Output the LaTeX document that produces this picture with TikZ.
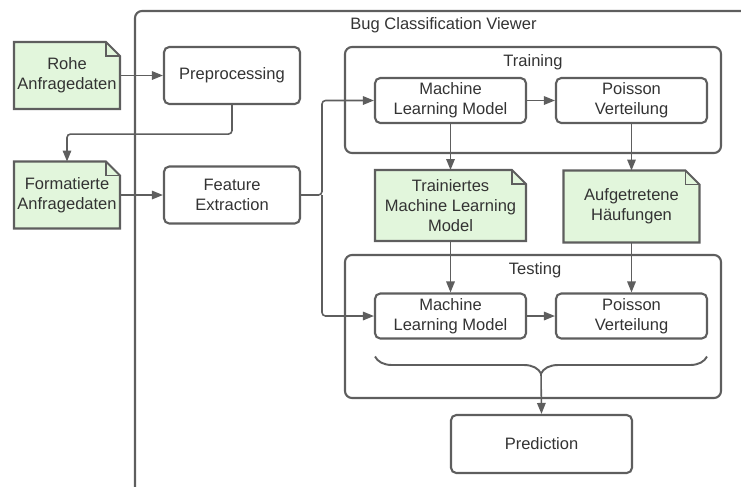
\documentclass[tikz,border=0pt]{standalone}
\usepackage{fontspec}
\setmainfont{Liberation Sans}
\usepackage{xcolor}
\usepackage{tikz}
\usetikzlibrary{arrows.meta,decorations.pathreplacing}
\pgfdeclarelayer{bg}
\pgfsetlayers{bg,main}

\definecolor{linegray}{HTML}{5E5E5E}
\definecolor{textgray}{HTML}{333333}
\definecolor{notegreen}{HTML}{E2F6DC}

%% folded corner of a note node, drawn behind its text
\newcommand{\foldsize}{0.28cm}
\newcommand{\notefold}[1]{%
	\begin{pgfonlayer}{bg}
		\filldraw[draw=linegray, fill=notegreen, line width=1.2pt] (#1.north west)
		-- ([xshift=-\foldsize]#1.north east) -- ([yshift=-\foldsize]#1.north east)
		-- (#1.south east) -- (#1.south west) -- cycle;
		\draw[linegray, line width=0.8pt] ([xshift=-\foldsize]#1.north east)
		|- ([yshift=-\foldsize]#1.north east);
	\end{pgfonlayer}}

\begin{document}
\begin{tikzpicture}[
	every node/.style={font=\fontsize{9.4}{11.3}\selectfont, text=textgray, align=center},
	box/.style={draw=linegray, line width=1.2pt, rounded corners=3pt, minimum width=2.72cm, minimum height=1.14cm},
	wide/.style={box, inner sep=1pt, minimum width=3.02cm, minimum height=0.9cm},
	group/.style={draw=linegray, line width=1.2pt, rounded corners=4pt},
	note/.style={inner sep=1pt, outer sep=0pt, minimum width=2.12cm, minimum height=1.34cm},
	conn/.style={draw=linegray, line width=0.9pt, rounded corners=2pt, -{Triangle[length=0.22cm,width=0.17cm]}}
	]
	\clip (0,0) rectangle (14.82,-9.72);

	%% Containers
	\node[group, minimum width=12.8cm, minimum height=10.3cm] (viewer) at (9.1,-5.37) {};
	\node (viewertitle) at (8.87,-0.5) {Bug Classification Viewer};
	\node[group, minimum width=7.52cm, minimum height=2.12cm] (training) at (10.66,-2.0) {};
	\node (trainingtitle) at (10.66,-1.24) {Training};
	\node[group, minimum width=7.52cm, minimum height=2.86cm] (testing) at (10.66,-6.53) {};
	\node (testingtitle) at (10.7,-5.4) {Testing};

	%% Input data and preprocessing
	\node[note] (rohe) at (1.34,-1.51) {Rohe\\Anfragedaten};
	\node[note] (formatiert) at (1.34,-3.9) {Formatierte\\Anfragedaten};
	\notefold{rohe}
	\notefold{formatiert}
	\node[box] (preproc) at (4.64,-1.51) {Preprocessing};
	\node[box] (feature) at (4.64,-3.9) {Feature\\Extraction};

	%% Training
	\node[wide] (mltrain) at (9.01,-2.01) {Machine\\Learning Model};
	\node[wide] (poissontrain) at (12.63,-2.01) {Poisson\\Verteilung};

	%% Results of training
	\node[note, minimum width=3.02cm, minimum height=1.42cm] (trained) at (9.01,-4.11) {Trainiertes\\Machine Learning\\Model};
	\node[note, minimum width=2.72cm, minimum height=1.44cm] (clusters) at (12.63,-4.13) {Aufgetretene\\Häufungen};
	\notefold{trained}
	\notefold{clusters}

	%% Testing
	\node[wide] (mltest) at (9.01,-6.32) {Machine\\Learning Model};
	\node[wide] (poissontest) at (12.63,-6.32) {Poisson\\Verteilung};
	\node[box, minimum width=3.62cm, minimum height=1.16cm] (prediction) at (10.83,-8.88) {Prediction};

	%% Connectors
	\draw[conn] (rohe) -- (preproc);
	\draw[conn] (preproc.south) -- ++(0,-0.58) -| (formatiert.north);
	\draw[conn] (formatiert) -- (feature);
	\coordinate (split) at (6.44,-3.9);
	\draw[conn] (feature.east) -- (split) |- (mltrain.west);
	\draw[conn] (split) |- (mltest.west);
	\draw[conn] (mltrain) -- (poissontrain);
	\draw[conn] (mltrain) -- (trained);
	\draw[conn] (poissontrain) -- (clusters);
	\draw[conn] (trained) -- (mltest);
	\draw[conn] (clusters) -- (poissontest);
	\draw[conn] (mltest) -- (poissontest);

	% brace over both testing steps
	\coordinate (bracel) at (7.5,-7.13);
	\coordinate (bracer) at (14.14,-7.13);
	\coordinate (bracetip) at (10.82,-7.47);
	\draw[linegray, line width=1.1pt, decorate, decoration={brace, mirror, amplitude=0.34cm}] (bracel) -- (bracer);
	\draw[conn] (bracetip) -- (prediction.north);
\end{tikzpicture}
\end{document}
